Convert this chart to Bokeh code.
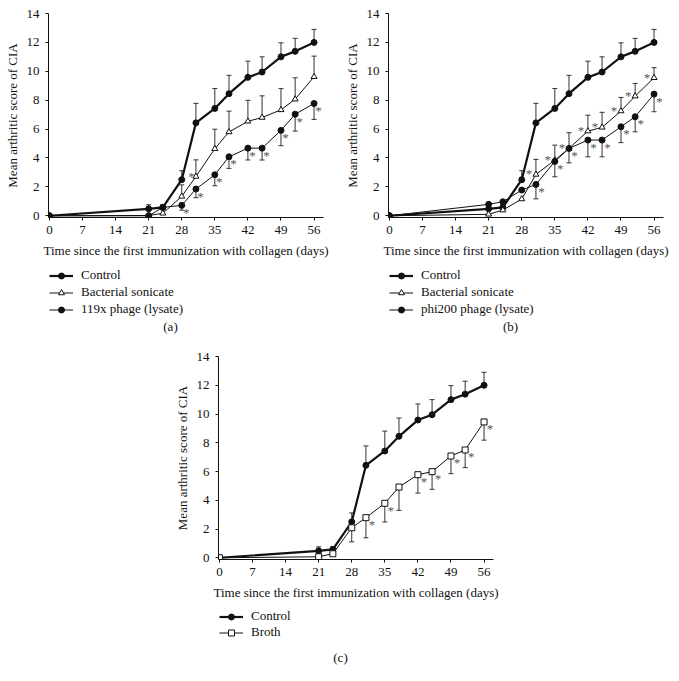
import numpy as np
from bokeh.plotting import figure
from bokeh.models import Range1d, Legend, LegendItem, Label, FixedTicker, Spacer
from bokeh.layouts import column, row
from bokeh.embed import file_html
from bokeh.resources import INLINE

# ---------------- data ----------------
days = [0, 21, 24, 28, 31, 35, 38, 42, 45, 49, 52, 56]
x_ticks = [0, 7, 14, 21, 28, 35, 42, 49, 56]
y_ticks = [0, 2, 4, 6, 8, 10, 12, 14]

control = [0, 0.48, 0.58, 2.5, 6.43, 7.43, 8.45, 9.58, 9.95, 11.0, 11.38, 12.0]
control_err = [0, 0.28, 0.2, 0.62, 1.35, 1.38, 1.27, 1.12, 1.05, 0.97, 0.9, 0.9]

sonicate_a = [0, 0.02, 0.17, 1.34, 2.72, 4.64, 5.8, 6.54, 6.8, 7.33, 8.07, 9.62]
sonicate_a_err = [0, 0, 0, 0.8, 1.15, 1.35, 1.44, 1.45, 1.5, 1.47, 1.48, 1.43]
phage119_a = [0, 0.0, 0.58, 0.72, 1.85, 2.84, 4.08, 4.68, 4.68, 5.91, 7.03, 7.77]
phage119_a_err = [0, 0, 0, 0.33, 0.6, 0.76, 0.8, 0.82, 0.82, 1.06, 1.17, 1.1]

sonicate_b = [0, 0.1, 0.39, 1.16, 2.86, 3.85, 4.66, 5.86, 6.12, 7.25, 8.28, 9.55]
sonicate_b_err = [0, 0, 0, 0, 1.04, 1.04, 1.09, 1.1, 1.04, 0.94, 0.88, 0.7]
phi200_b = [0, 0.79, 0.97, 1.78, 2.17, 3.76, 4.66, 5.24, 5.24, 6.16, 6.85, 8.42]
phi200_b_err = [0, 0, 0, 0, 1.0, 1.06, 1.0, 1.16, 1.16, 1.1, 1.04, 1.22]

broth_c = [0, 0.07, 0.28, 2.09, 2.79, 3.79, 4.92, 5.78, 5.99, 7.08, 7.5, 9.45]
broth_c_err = [0, 0, 0, 0.98, 1.4, 1.3, 1.62, 1.28, 1.23, 1.23, 1.23, 1.27]

stars_a_sonicate = [31]
stars_a_phage = [28, 31, 35, 38, 42, 45, 49, 52, 56]
stars_b_sonicate = [31, 35, 38, 42, 45, 49, 52, 56]
stars_b_phage = [31, 35, 38, 42, 45, 49, 52, 56]
stars_c_broth = [31, 35, 42, 45, 49, 52, 56]

x_label = "Time since the first immunization with collagen (days)"
y_label = "Mean arthritic score of CIA"

FONT = "Liberation Serif"
FS = "13px"
INK = "#111111"
FRAME_W = 275

STYLE = {
    "control": dict(marker="circle", lw=2.2, fill=INK, size=6),
    "open_tri": dict(marker="triangle", lw=1, fill="white", size=6),
    "dot": dict(marker="circle", lw=1, fill=INK, size=6),
    "open_sq": dict(marker="square", lw=1, fill="white", size=6),
}


def make_fig(width, height, left, right, top, bottom):
    p = figure(width=width, height=height,
               x_range=Range1d(-0.2, 58), y_range=Range1d(-0.12, 14),
               output_backend="svg", toolbar_location=None,
               min_border_left=left, min_border_right=right,
               min_border_top=top, min_border_bottom=bottom)
    p.outline_line_color = None
    p.grid.visible = False
    p.background_fill_color = "white"
    p.border_fill_color = "white"
    p.xaxis.ticker = FixedTicker(ticks=x_ticks)
    p.yaxis.ticker = FixedTicker(ticks=y_ticks)
    for ax in (p.xaxis[0], p.yaxis[0]):
        ax.axis_line_color = INK
        ax.axis_line_width = 1
        ax.major_tick_line_color = INK
        ax.major_tick_in = 0
        ax.major_tick_out = 3
        ax.minor_tick_line_color = None
        ax.major_label_text_font = FONT
        ax.major_label_text_font_size = FS
        ax.major_label_text_color = INK
        ax.axis_label_text_font = FONT
        ax.axis_label_text_font_size = FS
        ax.axis_label_text_font_style = "normal"
        ax.axis_label_text_color = INK
    p.xaxis.axis_label = x_label
    p.yaxis.axis_label = y_label
    p.xaxis.major_label_standoff = 5
    p.xaxis.axis_label_standoff = 6
    p.yaxis.major_label_standoff = 6
    p.yaxis.axis_label_standoff = 4
    return p


def draw_series(p, ys, errs, direction, style):
    st = STYLE[style]
    ex = [d for d, e in zip(days, errs) if e > 0]
    ey0 = [y for y, e in zip(ys, errs) if e > 0]
    ey1 = [y + direction * e for y, e in zip(ys, errs) if e > 0]
    p.segment(x0=ex, y0=ey0, x1=ex, y1=ey1, line_color="#333333", line_width=1)
    p.scatter(x=ex, y=ey1, marker="dash", size=5, line_color="#333333", line_width=1)
    p.line(x=days, y=ys, line_color=INK, line_width=st["lw"])
    p.scatter(x=days, y=ys, marker=st["marker"], size=st["size"], line_color=INK,
              fill_color=st["fill"], line_width=1)


def draw_stars(p, ys, star_days, dx, dy):
    sy = [ys[days.index(d)] for d in star_days]
    p.text(x=star_days, y=sy, text=["*"] * len(star_days), x_offset=dx, y_offset=dy,
           text_font={"value": FONT}, text_font_size="13px", text_color="#555555",
           text_align="center", text_baseline="middle")


def legend_fig(width, height, entries, leg_x, leg_y, spacing, caption, cap_x, cap_y):
    # its frame is aligned by the layout with the chart frame above it
    q = figure(width=width, height=height, x_range=Range1d(0, FRAME_W), y_range=Range1d(0, height),
               output_backend="svg", toolbar_location=None,
               min_border_left=0, min_border_right=0, min_border_top=0, min_border_bottom=0,
               x_axis_type=None, y_axis_type=None)
    q.outline_line_color = None
    q.grid.visible = False
    nan = np.array([np.nan])
    items = []
    for label, style in entries:
        st = STYLE[style]
        lr = q.line(x=nan, y=nan, line_color=INK, line_width=st["lw"])
        mr = q.scatter(x=nan, y=nan, marker=st["marker"], size=st["size"], line_color=INK,
                       fill_color=st["fill"], line_width=1)
        items.append(LegendItem(label=label, renderers=[lr, mr]))
    leg = Legend(items=items, location=(leg_x, leg_y), orientation="vertical", margin=0, padding=0,
                 glyph_width=24, glyph_height=15, label_height=15, spacing=spacing,
                 label_standoff=8, border_line_color=None, background_fill_alpha=0,
                 label_text_font=FONT, label_text_font_size=FS, label_text_color=INK)
    q.add_layout(leg, "center")
    q.add_layout(Label(x=cap_x, y=cap_y, text=caption, text_font=FONT, text_font_size=FS,
                       text_color=INK, text_align="center", text_baseline="middle"))
    return q


# panel (a)
pa = make_fig(335, 265, 48, 12, 13, 48)
draw_series(pa, control, control_err, 1, "control")
draw_series(pa, sonicate_a, sonicate_a_err, 1, "open_tri")
draw_series(pa, phage119_a, phage119_a_err, -1, "dot")
draw_stars(pa, sonicate_a, stars_a_sonicate, -4.5, 0.5)
draw_stars(pa, phage119_a, stars_a_phage, 4.5, 7)
la = legend_fig(335, 75, [("Control", "control"), ("Bacterial sonicate", "open_tri"),
                          ("119x phage (lysate)", "dot")], 1, 23, 1, "(a)", 122, 14)

# panel (b)
pb = make_fig(344, 265, 53, 16, 13, 48)
draw_series(pb, control, control_err, 1, "control")
draw_series(pb, sonicate_b, sonicate_b_err, 1, "open_tri")
draw_series(pb, phi200_b, phi200_b_err, -1, "dot")
draw_stars(pb, sonicate_b, stars_b_sonicate, -7, -0.5)
draw_stars(pb, phi200_b, stars_b_phage, 5.5, 7)
lb = legend_fig(344, 75, [("Control", "control"), ("Bacterial sonicate", "open_tri"),
                          ("phi200 phage (lysate)", "dot")], 1, 23, 1, "(b)", 122, 14)

# panel (c)
pc = make_fig(335, 267, 48, 12, 16, 48)
draw_series(pc, control, control_err, 1, "control")
draw_series(pc, broth_c, broth_c_err, -1, "open_sq")
draw_stars(pc, broth_c, stars_c_broth, 6, 7)
lc = legend_fig(335, 74, [("Control", "control"), ("Broth", "open_sq")], 1, 41, 0, "(c)", 122, 24)

layout = column(row(column(pa, la), column(pb, lb)),
                row(Spacer(width=170, height=341), column(pc, lc)))

open("out.html", "w").write(file_html(layout, INLINE))
